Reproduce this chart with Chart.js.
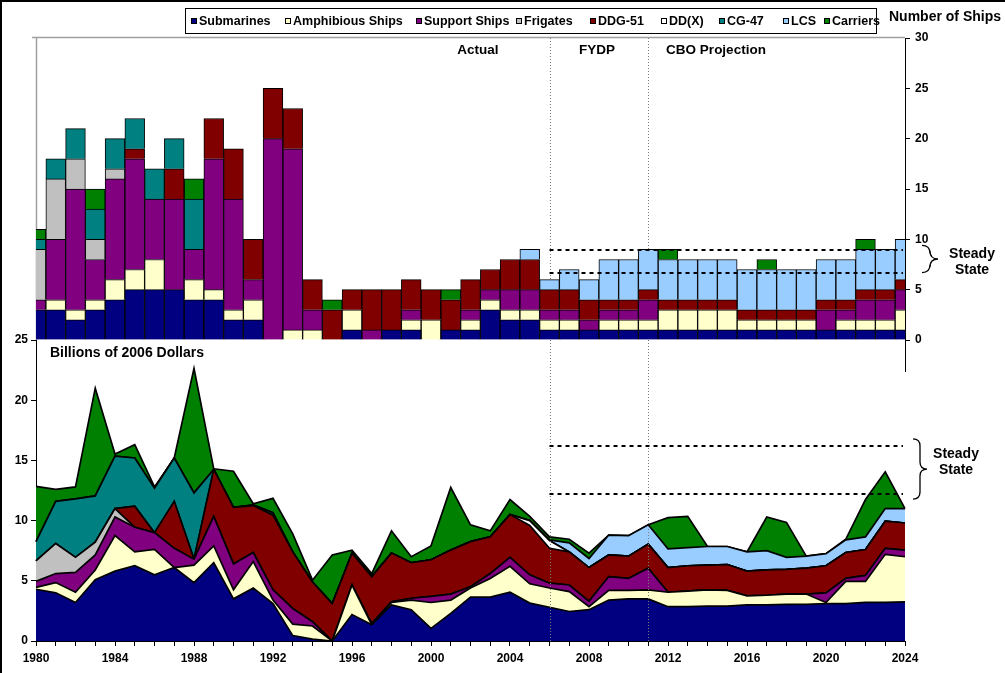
<!DOCTYPE html>
<html>
<head>
<meta charset="utf-8">
<script src="https://cdn.jsdelivr.net/npm/chart.js@4/dist/chart.umd.min.js"></script>
<style>
  body { margin: 0; background: #fff; }
  #wrap { position: relative; width: 1005px; height: 673px; overflow: hidden;
          font-family: "Liberation Sans", Arial, sans-serif; font-weight: bold; color: #000; }
  #wrap canvas { position: absolute; left: 0; top: 0; }
  .frame { position: absolute; left: 0; top: 0; width: 1005px; height: 673px; box-sizing: border-box;
           border-left: 2px solid #000; border-top: 2px solid #000; pointer-events: none; }
  .t { position: absolute; transform: translate(-50%, -50%); white-space: nowrap; text-align: center; }
  #legend { position: absolute; left: 185px; top: 8px; width: 692px; height: 26px; box-sizing: border-box;
            border: 1px solid #000; background: #fff; }
  .item { position: absolute; top: 0; height: 24px; line-height: 24px; font-size: 12.5px; white-space: nowrap; }
  .item i { display: inline-block; width: 4px; height: 4px; border: 1px solid #000; margin-right: 2px; vertical-align: 1px; }
</style>
</head>
<body>
<div id="wrap">
  <canvas id="ships" width="1005" height="673"></canvas>
  <canvas id="dollars" width="1005" height="673"></canvas>
  <div id="legend"></div>
  <div class="t" style="left:945px; top:16px; font-size:14px;">Number of Ships</div>
  <div class="t" style="left:478px; top:49px; font-size:13.5px;">Actual</div>
  <div class="t" style="left:597px; top:49px; font-size:13.5px;">FYDP</div>
  <div class="t" style="left:716px; top:49px; font-size:13.5px;">CBO Projection</div>
  <div class="t" style="left:127px; top:352px; font-size:14px;">Billions of 2006 Dollars</div>
  <div class="t" style="left:972px; top:261px; font-size:14px; line-height:16px;">Steady<br>State</div>
  <div class="t" style="left:956px; top:461px; font-size:14px; line-height:16px;">Steady<br>State</div>
  <div class="frame"></div>
</div>
<script>
const years = [1980, 1981, 1982, 1983, 1984, 1985, 1986, 1987, 1988, 1989,
  1990, 1991, 1992, 1993, 1994, 1995, 1996, 1997, 1998, 1999,
  2000, 2001, 2002, 2003, 2004, 2005, 2006, 2007, 2008, 2009,
  2010, 2011, 2012, 2013, 2014, 2015, 2016, 2017, 2018, 2019,
  2020, 2021, 2022, 2023, 2024];

const seriesNames = ['Submarines', 'Amphibious Ships', 'Support Ships', 'Frigates', 'DDG-51', 'DD(X)', 'CG-47', 'LCS', 'Carriers'];
const seriesColors = ['#000080', '#ffffcc', '#800080', '#c0c0c0', '#800000', '#ffffff', '#008080', '#99ccff', '#008000'];

// number of ships purchased per year
const subShips = [3, 3, 2, 3, 4, 5, 5, 5, 4, 4, 2, 2, 0, 0, 0, 0, 1, 0, 1, 1, 0, 1, 1, 3, 2, 2, 1, 1, 1, 1, 1, 1, 1, 1, 1, 1, 1, 1, 1, 1, 1, 1, 1, 1, 1];
const amphShips = [0, 1, 1, 1, 2, 2, 3, 0, 2, 1, 1, 2, 0, 1, 1, 0, 2, 0, 0, 1, 2, 0, 1, 1, 1, 1, 1, 1, 0, 1, 1, 1, 2, 2, 2, 2, 1, 1, 1, 1, 0, 1, 1, 1, 2];
const suppShips = [1, 6, 12, 4, 10, 11, 6, 9, 3, 13, 11, 2, 20, 18, 2, 0, 0, 1, 0, 1, 0, 0, 1, 1, 2, 2, 1, 1, 1, 1, 1, 2, 0, 0, 0, 0, 0, 0, 0, 0, 2, 1, 2, 2, 2];
const frigShips = [5, 6, 3, 2, 1, 0, 0, 0, 0, 0, 0, 0, 0, 0, 0, 0, 0, 0, 0, 0, 0, 0, 0, 0, 0, 0, 0, 0, 0, 0, 0, 0, 0, 0, 0, 0, 0, 0, 0, 0, 0, 0, 0, 0, 0];
const ddgShips = [0, 0, 0, 0, 0, 1, 0, 3, 0, 4, 5, 4, 5, 4, 3, 3, 2, 4, 4, 3, 3, 3, 3, 2, 3, 3, 2, 2, 2, 1, 1, 1, 1, 1, 1, 1, 1, 1, 1, 1, 1, 1, 1, 1, 1];
const ddxShips = [0, 0, 0, 0, 0, 0, 0, 0, 0, 0, 0, 0, 0, 0, 0, 0, 0, 0, 0, 0, 0, 0, 0, 0, 0, 0, 0, 0, 0, 0, 0, 0, 0, 0, 0, 0, 0, 0, 0, 0, 0, 0, 0, 0, 0];
const cgShips = [1, 2, 3, 3, 3, 3, 3, 3, 5, 0, 0, 0, 0, 0, 0, 0, 0, 0, 0, 0, 0, 0, 0, 0, 0, 0, 0, 0, 0, 0, 0, 0, 0, 0, 0, 0, 0, 0, 0, 0, 0, 0, 0, 0, 0];
const lcsShips = [0, 0, 0, 0, 0, 0, 0, 0, 0, 0, 0, 0, 0, 0, 0, 0, 0, 0, 0, 0, 0, 0, 0, 0, 0, 1, 1, 2, 2, 4, 4, 4, 4, 4, 4, 4, 4, 4, 4, 4, 4, 4, 4, 4, 4];
const carrShips = [1, 0, 0, 2, 0, 0, 0, 0, 2, 0, 0, 0, 0, 0, 0, 1, 0, 0, 0, 0, 0, 1, 0, 0, 0, 0, 0, 0, 0, 0, 0, 0, 1, 0, 0, 0, 0, 1, 0, 0, 0, 0, 1, 0, 0];

// billions of 2006 dollars per year
const subCost = [4.3, 4.0, 3.2, 5.1, 5.8, 6.25, 5.5, 6.1, 4.85, 6.5, 3.5, 4.4, 3.1, 0.45, 0.15, 0, 2.2, 1.35, 3.0, 2.6, 1.05, 2.3, 3.65, 3.65, 4.05, 3.15, 2.8, 2.45, 2.6, 3.4, 3.5, 3.5, 2.85, 2.85, 2.9, 2.9, 3.0, 3.0, 3.05, 3.05, 3.1, 3.1, 3.2, 3.2, 3.25];
const amphCost = [0.15, 0.85, 0.85, 0.8, 2.95, 1.15, 2.1, 0, 1.45, 1.4, 0.75, 2.2, 0.3, 0.95, 1.1, 0, 2.45, 0, 0.2, 0.8, 2.15, 1.1, 0.75, 1.55, 2.15, 1.6, 1.6, 1.65, 0.25, 0.8, 0.7, 0.75, 1.2, 1.3, 1.35, 1.3, 0.75, 0.8, 0.85, 0.85, 0.1, 1.85, 1.75, 4.0, 3.75];
const suppCost = [0.5, 0.75, 1.65, 1.25, 1.55, 2.05, 1.4, 1.6, 0.5, 2.45, 2.15, 0.75, 0.85, 1.3, 0.35, 0, 0, 0.1, 0.05, 0.15, 0.5, 0.5, 0.1, 0.4, 0.75, 0.75, 0.4, 0.55, 0.45, 1.15, 1.0, 1.8, 0, 0, 0, 0, 0, 0, 0, 0, 0.8, 0.25, 0.5, 0.5, 0.55];
const frigCost = [1.7, 2.5, 1.25, 1.05, 0.7, 0, 0, 0, 0, 0, 0, 0, 0, 0, 0, 0, 0, 0, 0, 0, 0, 0, 0, 0, 0, 0, 0, 0, 0, 0, 0, 0, 0, 0, 0, 0, 0, 0, 0, 0, 0, 0, 0, 0, 0];
const ddgCost = [0, 0, 0, 0, 0, 1.75, 0, 3.9, 0, 3.9, 4.7, 3.9, 6.2, 4.7, 3.3, 3.1, 2.65, 3.9, 4.05, 2.95, 3.05, 3.65, 3.75, 3.05, 3.55, 4.1, 2.9, 2.75, 2.8, 1.8, 1.85, 2.0, 2.05, 2.1, 2.05, 2.15, 2.05, 2.1, 2.05, 2.15, 2.25, 2.15, 2.15, 2.25, 2.25];
const ddxCost = [0, 0, 0, 0, 0, 0, 0, 0, 0, 0, 0, 0, 0, 0, 0, 0, 0, 0, 0, 0, 0, 0, 0, 0, 0, 0.4, 0.65, 0, 0, 0, 0, 0, 0, 0, 0, 0, 0, 0, 0, 0, 0, 0, 0, 0, 0];
const cgCost = [1.6, 3.5, 4.85, 3.85, 4.35, 4.0, 3.7, 3.6, 5.5, 0, 0, 0.05, 0.2, 0, 0, 0, 0, 0, 0, 0, 0, 0, 0, 0, 0, 0, 0, 0, 0, 0, 0, 0, 0, 0, 0, 0, 0, 0, 0, 0, 0, 0, 0, 0, 0];
const lcsCost = [0, 0, 0, 0, 0, 0, 0, 0, 0, 0, 0, 0, 0, 0, 0, 0, 0, 0, 0, 0, 0, 0, 0, 0, 0, 0, 0.05, 0.75, 0.75, 1.65, 1.7, 1.6, 1.55, 1.5, 1.55, 1.5, 1.6, 1.6, 1.0, 1.0, 1.0, 1.05, 1.05, 1.05, 1.2];
const carrCost = [4.6, 1.0, 1.0, 8.95, 0.18, 1.1, 0.1, 0, 10.35, 0.05, 3.0, 0.1, 1.2, 1.5, 0.15, 4.05, 0.25, 0.25, 1.85, 0.5, 1.15, 5.2, 1.4, 0.5, 1.25, 0.35, 0.25, 0.3, 0.45, 0, 0, 0, 2.6, 2.6, 0, 0, 0, 2.8, 2.9, 0, 0, 0.05, 3.1, 3.05, 0];

const shipSeries = [subShips, amphShips, suppShips, frigShips, ddgShips, ddxShips, cgShips, lcsShips, carrShips];
const costSeries = [subCost, amphCost, suppCost, frigCost, ddgCost, ddxCost, cgCost, lcsCost, carrCost];

// period markers and steady-state ranges
const periodYears = [2006, 2011];
const steadyShips = [6.7, 8.9];
const steadyCost = [12.2, 16.2];
const steadyFrom = 2006;
const steadyTo = 2024;

Chart.defaults.font.family = '"Liberation Sans", Arial, sans-serif';
Chart.defaults.font.weight = 'bold';
Chart.defaults.font.size = 12;
Chart.defaults.color = '#000';

// legend
const legendX = [5, 99, 230, 330, 404, 475, 533, 597, 638];
const legend = document.getElementById('legend');
seriesNames.forEach((name, i) => {
  const item = document.createElement('div');
  item.className = 'item';
  item.style.left = legendX[i] + 'px';
  item.innerHTML = '<i style="background:' + seriesColors[i] + '"></i>' + name;
  legend.appendChild(item);
});

const drawDotted = (ctx, x, top, bottom) => {
  ctx.save();
  ctx.strokeStyle = '#7a7a7a';
  ctx.lineWidth = 1;
  ctx.setLineDash([1, 2]);
  periodYears.forEach((yr) => {
    const px = Math.round(x.getPixelForValue(years.indexOf(yr))) + 0.5;
    ctx.beginPath();
    ctx.moveTo(px, top);
    ctx.lineTo(px, bottom);
    ctx.stroke();
  });
  ctx.restore();
};

const drawSteady = (ctx, x, y, values) => {
  const x0 = x.getPixelForValue(years.indexOf(steadyFrom));
  const x1 = x.getPixelForValue(years.indexOf(steadyTo)) - 2;
  ctx.save();
  ctx.strokeStyle = '#000';
  ctx.lineWidth = 2;
  ctx.setLineDash([4, 4]);
  values.forEach((v) => {
    const py = Math.round(y.getPixelForValue(v));
    ctx.beginPath();
    ctx.moveTo(x0, py);
    ctx.lineTo(x1, py);
    ctx.stroke();
  });
  ctx.restore();
};

const drawBrace = (ctx, x, top, bottom, w) => {
  const mid = (top + bottom) / 2;
  const r = w / 2;
  ctx.save();
  ctx.strokeStyle = '#000';
  ctx.lineWidth = 1.3;
  ctx.beginPath();
  ctx.moveTo(x, top);
  ctx.quadraticCurveTo(x + r, top, x + r, top + r);
  ctx.lineTo(x + r, mid - r);
  ctx.quadraticCurveTo(x + r, mid, x + w, mid);
  ctx.quadraticCurveTo(x + r, mid, x + r, mid + r);
  ctx.lineTo(x + r, bottom - r);
  ctx.quadraticCurveTo(x + r, bottom, x, bottom);
  ctx.stroke();
  ctx.restore();
};

const shipsDecor = {
  id: 'shipsDecor',
  beforeDatasetsDraw(chart) {
    const { ctx, chartArea: a, scales: { x } } = chart;
    ctx.save();
    ctx.strokeStyle = '#a0a0a0';
    ctx.lineWidth = 1.5;
    ctx.beginPath();
    ctx.moveTo(a.left - 4, a.top - 0.5);
    ctx.lineTo(a.right, a.top - 0.5);
    ctx.moveTo(a.left + 0.5, a.top);
    ctx.lineTo(a.left + 0.5, a.bottom);
    ctx.stroke();
    ctx.restore();
    drawDotted(ctx, x, a.top, a.bottom);
  },
  afterDatasetsDraw(chart) {
    const { ctx, chartArea: a, scales: { x, y } } = chart;
    drawSteady(ctx, x, y, steadyShips);
    ctx.save();
    ctx.strokeStyle = '#000';
    ctx.lineWidth = 1;
    ctx.beginPath();
    ctx.moveTo(a.right + 0.5, a.bottom);
    ctx.lineTo(a.right + 0.5, a.bottom + 32);
    ctx.stroke();
    ctx.restore();
    drawBrace(ctx, 922, y.getPixelForValue(steadyShips[1]) - 5, y.getPixelForValue(steadyShips[0]), 16);
  }
};

const dollarsDecor = {
  id: 'dollarsDecor',
  afterDatasetsDraw(chart) {
    const { ctx, chartArea: a, scales: { x, y } } = chart;
    drawDotted(ctx, x, a.top, a.bottom);
    drawSteady(ctx, x, y, steadyCost);
    drawBrace(ctx, 913, y.getPixelForValue(steadyCost[1]) - 7, y.getPixelForValue(steadyCost[0]) + 5, 14);
  }
};

new Chart(document.getElementById('ships'), {
  type: 'bar',
  data: {
    labels: years,
    datasets: shipSeries.map((data, i) => ({
      label: seriesNames[i],
      data: data.map((v) => (v === 0 ? null : v)),
      backgroundColor: seriesColors[i],
      borderColor: '#000',
      borderWidth: 1,
      barPercentage: 1,
      categoryPercentage: 1
    }))
  },
  options: {
    responsive: false,
    animation: false,
    devicePixelRatio: 1,
    layout: { padding: { left: 36, right: 60, top: 38, bottom: 333 } },
    plugins: { legend: { display: false }, tooltip: { enabled: false } },
    scales: {
      x: { stacked: true, display: false, offset: false },
      y: {
        stacked: true,
        position: 'right',
        min: 0,
        max: 30,
        ticks: { stepSize: 5, padding: 5, font: { size: 12, weight: 'bold' } },
        grid: { drawOnChartArea: false, color: '#000', tickLength: 5 },
        border: { color: '#000', width: 1 },
        afterFit: (s) => { s.width = 40; }
      }
    }
  },
  plugins: [shipsDecor]
});

new Chart(document.getElementById('dollars'), {
  type: 'line',
  data: {
    labels: years,
    datasets: costSeries.map((data, i) => ({
      label: seriesNames[i],
      data: data,
      backgroundColor: seriesColors[i],
      borderColor: '#000',
      borderWidth: 1.7,
      pointRadius: 0,
      tension: 0,
      fill: i === 0 ? 'origin' : '-1'
    }))
  },
  options: {
    responsive: false,
    animation: false,
    devicePixelRatio: 1,
    layout: { padding: { left: 0, right: 100, top: 340, bottom: 0 } },
    plugins: { legend: { display: false }, tooltip: { enabled: false } },
    scales: {
      x: {
        offset: false,
        ticks: {
          autoSkip: false,
          maxRotation: 0,
          padding: 5,
          font: { size: 12, weight: 'bold' },
          callback: (v, i) => (years[i] % 4 === 0 ? String(years[i]) : '')
        },
        grid: { drawOnChartArea: false, color: '#000', tickLength: 5 },
        border: { color: '#000', width: 1 },
        afterFit: (s) => { s.height = 32; }
      },
      y: {
        stacked: true,
        min: 0,
        max: 25,
        ticks: { stepSize: 5, padding: 3, font: { size: 12, weight: 'bold' } },
        grid: { drawOnChartArea: false, color: '#000', tickLength: 5 },
        border: { color: '#000', width: 1 },
        afterFit: (s) => { s.width = 36; }
      }
    }
  },
  plugins: [dollarsDecor]
});
</script>
</body>
</html>
